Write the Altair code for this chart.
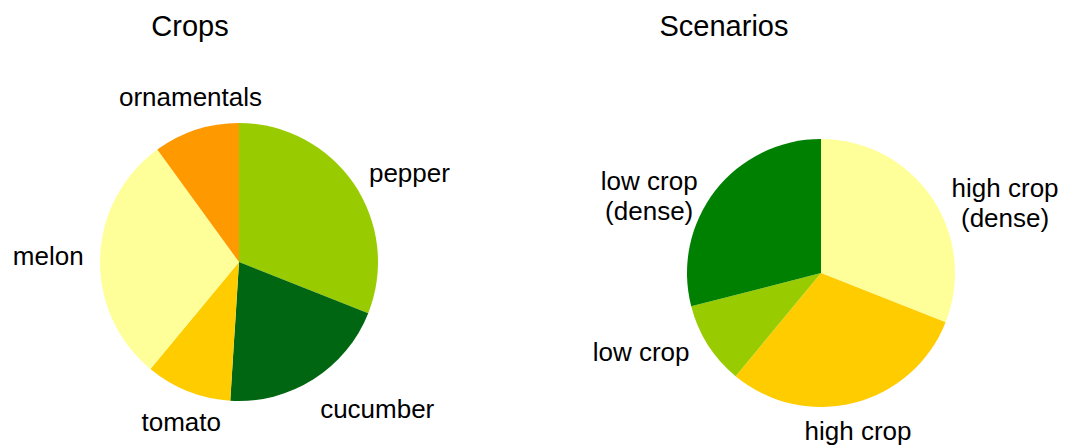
import altair as alt
import pandas as pd

# ---- data -------------------------------------------------------------
crops = ["pepper", "cucumber", "tomato", "melon", "ornamentals"]
crop_share = [31, 20, 10, 29, 10]
crop_colors = ["#99CC00", "#006611", "#FFCC00", "#FFFF99", "#FF9900"]

scenarios = ["high crop\n(dense)", "high crop", "low crop", "low crop\n(dense)"]
scenario_share = [31, 30, 10, 29]
scenario_colors = ["#FFFF99", "#FFCC00", "#99CC00", "#008000"]

titles = ["Crops", "Scenarios"]

# ---- style ------------------------------------------------------------
FONT = "Liberation Sans"
LABEL_SIZE = 26
TITLE_SIZE = 29
LINE_H = 30
W, H = 1053, 437


def pie(names, values, colors, cx, cy, r, gap):
    df = pd.DataFrame({"name": names, "share": values, "idx": list(range(len(names)))})
    base = alt.Chart(df)
    arc = base.mark_arc(radius=r).encode(
        theta=alt.Theta("share:Q", stack=True),
        order=alt.Order("idx:Q"),
        color=alt.Color("name:N", scale=alt.Scale(domain=names, range=colors), legend=None),
        x=alt.value(cx),
        y=alt.value(cy),
    )
    labels = (
        base.transform_joinaggregate(total="sum(share)")
        .transform_window(cum="sum(share)", sort=[{"field": "idx"}])
        .transform_calculate(
            mid="2*PI*(datum.cum - datum.share/2)/datum.total",
            s="sin(datum.mid)",
            c="cos(datum.mid)",
            nl="length(split(datum.name, '\\n'))",
            w=f"0.52*{LABEL_SIZE}*length(split(datum.name, '\\n')[0])",
        )
        .transform_calculate(
            ox="datum.s > 0.4 ? datum.w/2 : (datum.s < -0.4 ? -datum.w/2 : 0)",
            oy=f"datum.c > 0.65 ? -datum.nl*{LINE_H}/2 : (datum.c < -0.65 ? datum.nl*{LINE_H}/2 : 0)",
        )
        .mark_text(
            radius=r + gap,
            align="center",
            baseline="middle",
            font=FONT,
            fontSize=LABEL_SIZE,
            lineBreak="\n",
            lineHeight=LINE_H,
            color="#000000",
            dx=alt.ExprRef(expr="datum.ox"),
            dy=alt.ExprRef(expr="datum.oy"),
        )
        .encode(
            theta=alt.Theta("share:Q", stack=True),
            order=alt.Order("idx:Q"),
            text="name:N",
            x=alt.value(cx),
            y=alt.value(cy),
        )
    )
    return arc, labels


def title_mark(text, tx, ty):
    return (
        alt.Chart(pd.DataFrame({"t": [text]}))
        .mark_text(font=FONT, fontSize=TITLE_SIZE, align="center", baseline="alphabetic", color="#000000")
        .encode(text="t:N", x=alt.value(tx), y=alt.value(ty))
    )


arc1, lab1 = pie(crops, crop_share, crop_colors, 231, 254, 139, 18)
arc2, lab2 = pie(scenarios, scenario_share, scenario_colors, 813, 265, 134, 15)

chart = (
    alt.layer(arc1, lab1, arc2, lab2, title_mark(titles[0], 182, 28), title_mark(titles[1], 716, 28))
    .resolve_scale(theta="independent", color="independent")
    .properties(width=W, height=H, autosize=alt.AutoSizeParams(type="none"), padding=0)
    .configure_view(stroke=None)
)

chart.save("out.html", embed_options={"renderer": "svg", "actions": False})
